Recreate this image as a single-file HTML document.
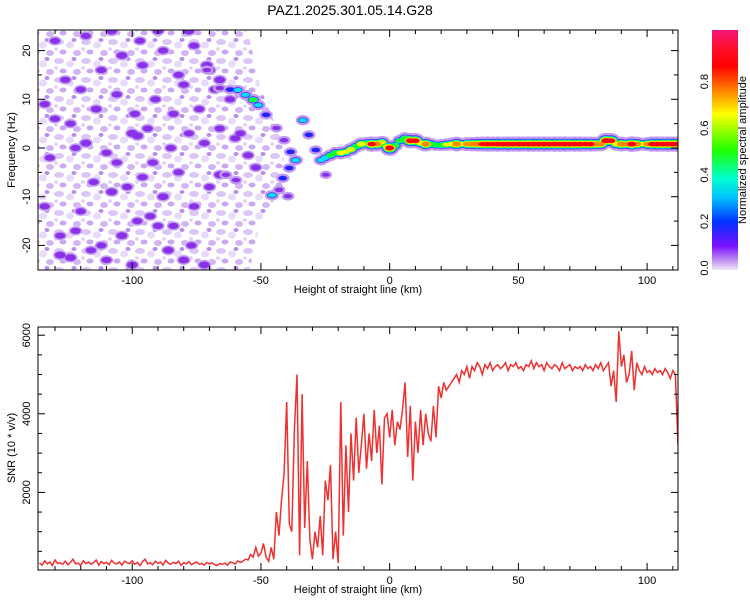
<!DOCTYPE html>
<html><head><meta charset="utf-8"><style>
html,body{margin:0;padding:0;background:#fff;}
svg{display:block;font-family:"Liberation Sans",sans-serif;}
</style></head><body>
<svg id="chart" width="750" height="600" viewBox="0 0 750 600">
<defs>
<linearGradient id="cbGrad" x1="0" y1="0" x2="0" y2="1">
<stop offset="0" stop-color="#f0147a"/><stop offset="0.07" stop-color="#ff1030"/>
<stop offset="0.15" stop-color="#ff0000"/><stop offset="0.25" stop-color="#ff8000"/>
<stop offset="0.35" stop-color="#ffff00"/><stop offset="0.5" stop-color="#20ff00"/>
<stop offset="0.62" stop-color="#00ffd0"/><stop offset="0.7" stop-color="#00c0ff"/>
<stop offset="0.8" stop-color="#0030ff"/><stop offset="0.9" stop-color="#7a10ff"/>
<stop offset="0.96" stop-color="#c090f0"/><stop offset="1" stop-color="#f0e6fa"/>
</linearGradient>
<pattern id="speck" width="27" height="19" patternUnits="userSpaceOnUse">
<ellipse cx="5" cy="4" rx="5" ry="3" fill="#dcc6f6"/>
<ellipse cx="16" cy="7" rx="4" ry="3.5" fill="#e8dafa"/>
<ellipse cx="23" cy="15" rx="4" ry="3" fill="#d2b6f3"/>
<ellipse cx="9" cy="14" rx="3.5" ry="2.5" fill="#c9a8f1"/>
<ellipse cx="20" cy="2" rx="2.5" ry="2" fill="#b88ced"/>
<ellipse cx="2" cy="11" rx="2" ry="1.8" fill="#e2d0f8"/>
</pattern>
<clipPath id="topClip"><rect x="38" y="30" width="640" height="240"/></clipPath>
<clipPath id="botClip"><rect x="38" y="327" width="640" height="243"/></clipPath>
</defs>
<text x="350" y="15" font-size="14" text-anchor="middle">PAZ1.2025.301.05.14.G28</text>
<g id="top" clip-path="url(#topClip)"></g>
<g id="topAxes"></g>
<g id="bot" clip-path="url(#botClip)"></g>
<g id="botAxes"></g>
<rect x="712" y="30" width="26" height="240" fill="url(#cbGrad)"/>
<g id="cbAxes"></g>
<text transform="translate(746,150) rotate(-90)" font-size="11" text-anchor="middle">Normalized spectral amplitude</text>
<text transform="translate(15,150) rotate(-90)" font-size="11" text-anchor="middle">Frequency (Hz)</text>
<text transform="translate(15,448) rotate(-90)" font-size="11" text-anchor="middle">SNR (10 * v/v)</text>
<text x="358" y="293" font-size="11" text-anchor="middle">Height of straight line (km)</text>
<text x="358" y="593" font-size="11" text-anchor="middle">Height of straight line (km)</text>
</svg>
<script>
const xTicks = [-100, -50, 0, 50, 100];
const fTicks = [-20, -10, 0, 10, 20];
const snrTicks = [2000, 4000, 6000];
const cbTicks = [0.0, 0.2, 0.4, 0.6, 0.8];
const snrStart = -136;
const snrValues = [
200,150,260,180,230,140,280,190,210,170,
250,160,220,300,180,200,140,260,190,230,
170,210,280,150,240,190,220,160,270,200,
180,230,150,250,210,190,260,170,220,140,
240,300,180,210,160,250,190,230,150,270,
200,170,220,190,250,140,210,180,240,160,
200,230,170,190,150,220,180,210,160,140,
190,170,200,150,230,210,180,260,220,250,
300,280,420,350,600,380,450,700,350,250,
600,300,1500,900,1800,2500,4300,1200,1000,3600,
5000,400,4500,1100,2800,800,300,1000,600,1400,
400,2300,1800,2700,300,1000,200,4300,900,3200,
1500,3500,2300,3900,2500,3200,4000,2600,3500,2800,
4100,3000,3700,2200,3900,4000,3400,4100,3200,3800,
3600,4100,4800,2900,4200,2300,3800,3000,4100,3200,
4000,3500,3300,4200,3400,4700,4400,4800,4600,4700,
4800,4900,5000,4800,5100,5000,5200,4900,5200,5100,
5300,5200,5000,5250,5150,5300,5100,5200,5250,5150,
5200,5300,5100,5250,5200,5300,5150,5200,5100,5250,
5200,5350,5150,5300,5200,5250,5100,5300,5200,5150,
5250,5200,5100,5300,5150,5200,5250,5100,5200,5150,
5200,5100,5250,5150,5200,5100,5250,5150,5300,5100,
5200,5300,4700,5100,4300,6100,5200,5500,4800,5000,
5600,4600,5300,5100,5000,5200,5050,5100,5000,5150,
5050,5100,5000,5150,5050,4900,5100,5000,3200];
const ridgeX = [-71,-66,-62,-59,-56,-53,-51,-48,-44,-41,-38.5,-36.5,-39,-41.5,-43,-45.7,-39.5,
 -33.7,-31.4,-28.7,-26.7,-24.8,-63.6,-59.7,
 -25,-23,-21,-19,-17,-15,-13,-11,-9,-7,-5,-3,-1,0,2,4,6,8,10,12,14,16,18,20,22,24,26,28,30,32,34,36,38,40,42,44,46,48,50,52,54,56,58,60,62,64,66,68,70,72,74,76,78,80,82,84,86,88,90,92,94,96,98,100,102,104,106,108,110,112];
const ridgeF = [16,12.3,12,11.9,10.9,9.9,8.8,6.8,4.1,1.6,-0.8,-2.5,-4.1,-6.2,-8.6,-9.7,-9.9,
 5.7,2.7,-0.4,-2.5,-5.5,-5.5,-6.6,
 -2,-1.5,-1,-1,-0.8,-0.3,0.3,0.8,1,0.8,0.8,1.2,0.3,0,0.5,1.5,2,1.5,1.5,1,0.8,0.8,0.6,0.6,0.7,0.8,0.8,0.8,0.8,0.8,0.8,0.8,0.8,0.8,0.8,0.8,0.8,0.8,0.8,0.8,0.8,0.8,0.8,0.8,0.8,0.8,0.8,0.8,0.8,0.8,0.8,0.8,0.8,0.8,0.8,1.5,1.5,0.8,0.8,0.8,0.8,0.8,0.8,0.8,0.8,0.8,0.8,0.8,0.8,0.8];
const ridgeA = [0.13,0.14,0.2,0.3,0.3,0.45,0.3,0.2,0.13,0.13,0.2,0.32,0.2,0.2,0.15,0.32,0.13,
 0.3,0.2,0.2,0.32,0.1,0.13,0.13,
 0.35,0.45,0.5,0.6,0.55,0.6,0.5,0.65,0.5,0.85,0.8,0.55,0.6,0.9,0.5,0.45,0.5,0.88,0.85,0.6,0.8,0.5,0.45,0.5,0.55,0.6,0.8,0.55,0.7,0.75,0.8,0.82,0.85,0.83,0.86,0.84,0.87,0.85,0.86,0.84,0.87,0.86,0.85,0.87,0.84,0.86,0.85,0.87,0.84,0.86,0.85,0.83,0.84,0.8,0.75,0.9,0.85,0.6,0.8,0.7,0.88,0.8,0.55,0.7,0.85,0.86,0.85,0.87,0.86,0.88];
const noiseX = [-128,-124,-116,-112,-104,-98,-93,-90,-86,-80,-77,-72,-128,-120,-108,-115,-102,-96,-88,-82,-76,-70,-66,-132,-122,-118,-110,-100,-98,-92,-85,-78,-72,-66,-58,-55,-130,-124,-114,-106,-99,-91,-84,-80,-74,-68,-126,-120,-112,-104,-96,-88,-82,-76,-70,-66,-130,-118,-108,-97,-90,-78,-71,-62,-134,-134,-100,-110,-122,-106,-94,-84,-60,-52];
const noiseF = [-22,-22.5,-21,-20,-18,-15,-14,-16,-21,-23,-20,-24,-18,-13,-9,-7,-8,-6,-10,-5,-12,-8,-5.5,-2,0,1,-1,3,2.5,-3,0,3,1,4,3,-1.5,6,5,8,11,7,10,7,13,8,12,14,12,16,19,17,20,15,21,16,14,22,23,24,22,24,24,17,10,9,-12,-24,-23,-17,-3,4,-16,2,-4];
const noiseA = [0.12,0.12,0.1,0.1,0.12,0.1,0.1,0.1,0.12,0.12,0.1,0.12,0.1,0.1,0.12,0.1,0.1,0.1,0.12,0.1,0.1,0.1,0.12,0.1,0.1,0.12,0.1,0.13,0.13,0.1,0.1,0.1,0.1,0.1,0.1,0.1,0.1,0.1,0.12,0.1,0.1,0.1,0.1,0.1,0.1,0.1,0.1,0.1,0.1,0.12,0.1,0.1,0.1,0.1,0.12,0.12,0.1,0.1,0.12,0.1,0.1,0.12,0.12,0.1,0.1,0.1,0.12,0.1,0.1,0.1,0.1,0.1,0.1,0.1];
const regionX = [-140,-56,-50,-42,-40,-50,-55,-140];
const regionF = [26,26,12,2,-8,-15,-26,-26];

const NS = 'http://www.w3.org/2000/svg';
const X0 = 38, X1 = 678, KM0 = -136.6, KM1 = 112;
function sx(v){ return X0 + (v - KM0) / (KM1 - KM0) * (X1 - X0); }
function fy(v){ return 148 - v * 4.87; }
function snry(v){ return 571 - v * 0.0393; }
function mk(tag, attrs, parent){ const e = document.createElementNS(NS, tag); for (const k in attrs) e.setAttribute(k, attrs[k]); parent.appendChild(e); return e; }
const topG = document.getElementById('top');
const levels = [0.03,0.06,0.095,0.18,0.27,0.4,0.55,0.7,0.82];
const lvlColors = ['#e6d6f9','#c09af0','#8a30e8','#1a28ff','#00e0ff','#10ff30','#f0ff00','#ff8800','#ff0010'];

const reg = mk('polygon', {points: regionX.map((x,i)=>sx(x)+','+fy(regionF[i])).join(' '), fill:'url(#speck)'}, topG);



function drawBlobs(xs, fs, as, base, k, halo, name){
  levels.forEach((lv, li) => {
    xs.forEach((x, i) => {
      const a = as[i];
      if (lv > a) return;
      const ry = base + (a - lv) * k + (lv <= 0.06 ? halo : 0);
      const e = mk('ellipse', {cx: sx(x), cy: fy(fs[i]), rx: ry + 2, ry: ry, fill: lvlColors[li]}, topG);
      
      
    });
  });
}
drawBlobs(noiseX, noiseF, noiseA, 3, 14, 1, 'noise-blob');
drawBlobs(ridgeX, ridgeF, ridgeA, 2, 4.5, 2, 'ridge-blob');

const botG = document.getElementById('bot');
const pts = snrValues.map((v,i)=> sx(snrStart + i).toFixed(1) + ',' + snry(v).toFixed(1)).join(' ');
const line = mk('polyline', {points: pts, fill:'none', stroke:'#f03030', 'stroke-width':1.5}, botG);



function frame(g, y0, y1){
  const r = mk('rect', {x:X0, y:y0, width:X1-X0, height:y1-y0, fill:'none', stroke:'#000', 'stroke-width':1}, g);
  
  
  for (let k = -130; k <= 110; k += 10){
    const x = sx(k), L = (k % 50 === 0) ? 7 : 4;
    mk('line', {x1:x, y1:y1, x2:x, y2:y1-L, stroke:'#000'}, g);
    mk('line', {x1:x, y1:y0, x2:x, y2:y0+L, stroke:'#000'}, g);
  }
  xTicks.forEach(t => {
    const tx = mk('text', {x:sx(t), y:y1+14, 'font-size':11, 'text-anchor':'middle'}, g);
    tx.textContent = t;
    
    
  });
}
const ta = document.getElementById('topAxes');
frame(ta, 30, 270);
for (let f = -20; f <= 20; f += 5){
  const y = fy(f), L = (f % 10 === 0) ? 7 : 4;
  mk('line', {x1:X0, y1:y, x2:X0+L, y2:y, stroke:'#000'}, ta);
  mk('line', {x1:X1, y1:y, x2:X1-L, y2:y, stroke:'#000'}, ta);
}
fTicks.forEach(t => {
  const tx = mk('text', {transform:'translate(30,'+fy(t)+') rotate(-90)', 'font-size':11, 'text-anchor':'middle'}, ta);
  tx.textContent = t;
  
  
});
const ba = document.getElementById('botAxes');
frame(ba, 327, 570);
for (let s = 500; s <= 6000; s += 500){
  const y = snry(s), L = (s % 2000 === 0) ? 7 : 4;
  mk('line', {x1:X0, y1:y, x2:X0+L, y2:y, stroke:'#000'}, ba);
  mk('line', {x1:X1, y1:y, x2:X1-L, y2:y, stroke:'#000'}, ba);
}
snrTicks.forEach(t => {
  const tx = mk('text', {transform:'translate(30,'+snry(t)+') rotate(-90)', 'font-size':11, 'text-anchor':'middle'}, ba);
  tx.textContent = t;
  
  
});
const cbA = document.getElementById('cbAxes');
cbTicks.forEach(t => {
  const y = 268 - t * 233;
  const tx = mk('text', {transform:'translate(708,'+y+') rotate(-90)', 'font-size':11, 'text-anchor':'middle'}, cbA);
  tx.textContent = t.toFixed(1);
  
  
});
</script>
</body></html>
